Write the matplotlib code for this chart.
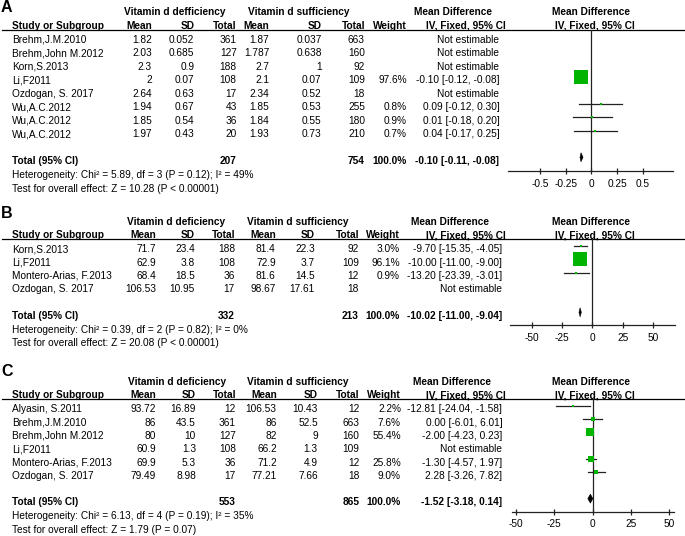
import numpy as np
import matplotlib
matplotlib.use("Agg")
import matplotlib.pyplot as plt

plt.rcParams['font.family'] = ['Liberation Sans', 'DejaVu Sans']
plt.rcParams['axes.unicode_minus'] = False

# ---- panel A ----
a_study = ["Brehm,J.M.2010", "Brehm,John M.2012", "Korn,S.2013", "Li,F2011",
           "Ozdogan, S. 2017", "Wu,A.C.2012", "Wu,A.C.2012", "Wu,A.C.2012"]
a_def_mean = [1.82, 2.03, 2.3, 2, 2.64, 1.94, 1.85, 1.97]
a_def_sd = [0.052, 0.685, 0.9, 0.07, 0.63, 0.67, 0.54, 0.43]
a_def_n = [361, 127, 188, 108, 17, 43, 36, 20]
a_suf_mean = [1.87, 1.787, 2.7, 2.1, 2.34, 1.85, 1.84, 1.93]
a_suf_sd = [0.037, 0.638, 1, 0.07, 0.52, 0.53, 0.55, 0.73]
a_suf_n = [663, 160, 92, 109, 18, 255, 180, 210]
a_weight = [None, None, None, 97.6, None, 0.8, 0.9, 0.7]
a_md = [None, None, None, -0.10, None, 0.09, 0.01, 0.04]
a_lo = [None, None, None, -0.12, None, -0.12, -0.18, -0.17]
a_hi = [None, None, None, -0.08, None, 0.30, 0.20, 0.25]
a_tot_n = [207, 754]
a_tot_ci = [-0.10, -0.11, -0.08]
a_het = [5.89, 3, 0.12, 49]
a_z = [10.28, "< 0.00001"]
a_ticks = [-0.5, -0.25, 0, 0.25, 0.5]
a_ticklabels = ["-0.5", "-0.25", "0", "0.25", "0.5"]

# ---- panel B ----
b_study = ["Korn,S.2013", "Li,F2011", "Montero-Arias, F.2013", "Ozdogan, S. 2017"]
b_def_mean = [71.7, 62.9, 68.4, 106.53]
b_def_sd = [23.4, 3.8, 18.5, 10.95]
b_def_n = [188, 108, 36, 17]
b_suf_mean = [81.4, 72.9, 81.6, 98.67]
b_suf_sd = [22.3, 3.7, 14.5, 17.61]
b_suf_n = [92, 109, 12, 18]
b_weight = [3.0, 96.1, 0.9, None]
b_md = [-9.70, -10.00, -13.20, None]
b_lo = [-15.35, -11.00, -23.39, None]
b_hi = [-4.05, -9.00, -3.01, None]
b_tot_n = [332, 213]
b_tot_ci = [-10.02, -11.00, -9.04]
b_het = [0.39, 2, 0.82, 0]
b_z = [20.08, "< 0.00001"]
b_ticks = [-50, -25, 0, 25, 50]
b_ticklabels = ["-50", "-25", "0", "25", "50"]

# ---- panel C ----
c_study = ["Alyasin, S.2011", "Brehm,J.M.2010", "Brehm,John M.2012", "Li,F2011",
           "Montero-Arias, F.2013", "Ozdogan, S. 2017"]
c_def_mean = [93.72, 86, 80, 60.9, 69.9, 79.49]
c_def_sd = [16.89, 43.5, 10, 1.3, 5.3, 8.98]
c_def_n = [12, 361, 127, 108, 36, 17]
c_suf_mean = [106.53, 86, 82, 66.2, 71.2, 77.21]
c_suf_sd = [10.43, 52.5, 9, 1.3, 4.9, 7.66]
c_suf_n = [12, 663, 160, 109, 12, 18]
c_weight = [2.2, 7.6, 55.4, None, 25.8, 9.0]
c_md = [-12.81, 0.00, -2.00, None, -1.30, 2.28]
c_lo = [-24.04, -6.01, -4.23, None, -4.57, -3.26]
c_hi = [-1.58, 6.01, 0.23, None, 1.97, 7.82]
c_tot_n = [553, 865]
c_tot_ci = [-1.52, -3.18, 0.14]
c_het = [6.13, 4, 0.19, 35]
c_z = [1.79, "= 0.07"]
c_ticks = [-50, -25, 0, 25, 50]
c_ticklabels = ["-50", "-25", "0", "25", "50"]

panels = [
    dict(letter="A", def_label="Vitamin d defficiency", study=a_study,
         def_mean=a_def_mean, def_sd=a_def_sd, def_n=a_def_n,
         suf_mean=a_suf_mean, suf_sd=a_suf_sd, suf_n=a_suf_n,
         weight=a_weight, md=a_md, lo=a_lo, hi=a_hi, tot_n=a_tot_n,
         tot_ci=a_tot_ci, het=a_het, z=a_z, ticks=a_ticks, ticklabels=a_ticklabels),
    dict(letter="B", def_label="Vitamin d deficiency", study=b_study,
         def_mean=b_def_mean, def_sd=b_def_sd, def_n=b_def_n,
         suf_mean=b_suf_mean, suf_sd=b_suf_sd, suf_n=b_suf_n,
         weight=b_weight, md=b_md, lo=b_lo, hi=b_hi, tot_n=b_tot_n,
         tot_ci=b_tot_ci, het=b_het, z=b_z, ticks=b_ticks, ticklabels=b_ticklabels),
    dict(letter="C", def_label="Vitamin d deficiency", study=c_study,
         def_mean=c_def_mean, def_sd=c_def_sd, def_n=c_def_n,
         suf_mean=c_suf_mean, suf_sd=c_suf_sd, suf_n=c_suf_n,
         weight=c_weight, md=c_md, lo=c_lo, hi=c_hi, tot_n=c_tot_n,
         tot_ci=c_tot_ci, het=c_het, z=c_z, ticks=c_ticks, ticklabels=c_ticklabels),
]

# layout in pixels
layouts = [
    dict(y0=40, step=13.45, letter_y=7, axis_y=171,
         cols=[151.7, 194.3, 236.7, 269.3, 321.7, 365, 406.7, 499.3],
         def_c=174.7, suf_c=299, md_c=453, fx=(508, 673), xlim=(-0.811, 0.796), box=1.5),
    dict(y0=249.3, step=13.35, letter_y=213, axis_y=325,
         cols=[156, 195, 235, 275.7, 315, 359, 400, 502.3],
         def_c=176.3, suf_c=297.5, md_c=450.5, fx=(510, 675), xlim=(-67.7, 68.0), box=1.45),
    dict(y0=409.3, step=13.3, letter_y=372, axis_y=511.7,
         cols=[156, 196, 236, 276.7, 317.7, 359.3, 401, 502.3],
         def_c=177.5, suf_c=297.7, md_c=452, fx=(511.7, 674), xlim=(-52.8, 53.0), box=1.12),
]

W, H = 685, 536
fs = 7.25
green = "#00b400"
ink = "#222222"

fig = plt.figure(figsize=(W / 100, H / 100), dpi=100)
bg = fig.add_axes([0, 0, 1, 1])
bg.set_xlim(0, W)
bg.set_ylim(H, 0)
bg.axis("off")


def num(v):
    return f"{v:g}"


def ci_text(m, l, h):
    return f"{m:.2f} [{l:.2f}, {h:.2f}]"


for p, lay in zip(panels, layouts):
    n = len(p["study"])
    st = lay["step"]
    ry = lambda i: lay["y0"] + i * st
    cols = lay["cols"]
    bold = dict(fontsize=fs, fontweight="bold", va="center")
    norm = dict(fontsize=fs, va="center")

    bg.text(1, lay["letter_y"], p["letter"], fontsize=11.5, fontweight="bold", va="center")

    # header rows
    y1 = ry(-2.05)
    bg.text(lay["def_c"], y1, p["def_label"], ha="center", **bold)
    bg.text(lay["suf_c"], y1, "Vitamin d sufficiency", ha="center", **bold)
    bg.text(lay["md_c"], y1, "Mean Difference", ha="center", **bold)
    bg.text(591.5, y1, "Mean Difference", ha="center", **bold)
    y2 = ry(-1.05)
    bg.text(12, y2, "Study or Subgroup", ha="left", **bold)
    for x, lab in zip(cols[:7], ["Mean", "SD", "Total", "Mean", "SD", "Total", "Weight"]):
        bg.text(x, y2, lab, ha="right", **bold)
    bg.text(505.7, y2, "IV, Fixed, 95% CI", ha="right", **bold)
    bg.text(594.5, y2, "IV, Fixed, 95% CI", ha="center", **bold)
    uy = ry(-0.77)
    bg.plot([2, W], [uy, uy], color="black", lw=0.9)

    # study rows
    for i in range(n):
        y = ry(i)
        bg.text(12, y, p["study"][i], ha="left", **norm)
        vals = [num(p["def_mean"][i]), num(p["def_sd"][i]), str(p["def_n"][i]),
                num(p["suf_mean"][i]), num(p["suf_sd"][i]), str(p["suf_n"][i])]
        for x, v in zip(cols[:6], vals):
            bg.text(x, y, v, ha="right", **norm)
        if p["md"][i] is None:
            bg.text(cols[7], y, "Not estimable", ha="right", **norm)
        else:
            bg.text(cols[6], y, f"{p['weight'][i]:.1f}%", ha="right", **norm)
            bg.text(cols[7], y, ci_text(p["md"][i], p["lo"][i], p["hi"][i]), ha="right", **norm)

    # total + footnotes
    yt = ry(n + 0.98)
    bg.text(12, yt, "Total (95% CI)", ha="left", **bold)
    bg.text(cols[2], yt, str(p["tot_n"][0]), ha="right", **bold)
    bg.text(cols[5], yt, str(p["tot_n"][1]), ha="right", **bold)
    bg.text(cols[6], yt, "100.0%", ha="right", **bold)
    bg.text(cols[7], yt, ci_text(*p["tot_ci"]), ha="right", **bold)
    chi, df, pv, i2 = p["het"]
    bg.text(12, ry(n + 2.02),
            f"Heterogeneity: Chi\u00b2 = {chi:.2f}, df = {df} (P = {pv:.2f}); I\u00b2 = {i2}%",
            ha="left", **norm)
    bg.text(12, ry(n + 3.05),
            f"Test for overall effect: Z = {p['z'][0]:.2f} (P {p['z'][1]})",
            ha="left", **norm)

    # forest plot axes (y in the same pixel units as the table)
    x0, x1 = lay["fx"]
    fa = fig.add_axes([x0 / W, 1 - lay["axis_y"] / H, (x1 - x0) / W, (lay["axis_y"] - uy) / H])
    fa.set_xlim(*lay["xlim"])
    fa.set_ylim(lay["axis_y"], uy)
    fa.patch.set_alpha(0)
    for s in ["top", "left", "right"]:
        fa.spines[s].set_visible(False)
    fa.spines["bottom"].set_color(ink)
    fa.spines["bottom"].set_linewidth(0.9)
    fa.axvline(0, color=ink, lw=0.9)
    fa.set_yticks([])
    fa.set_xticks(p["ticks"])
    fa.set_xticklabels(p["ticklabels"], fontsize=fs)
    fa.tick_params(axis="x", direction="inout", length=5, width=0.9, color=ink, pad=3)

    for i in range(n):
        if p["md"][i] is None:
            continue
        y = ry(i) - 3.5
        fa.plot([p["lo"][i], p["hi"][i]], [y, y], color=ink, lw=0.9, zorder=2, clip_on=False)
        side = max(lay["box"] * np.sqrt(p["weight"][i]), 2.5) * 0.72
        fa.scatter([p["md"][i]], [y], marker="s", s=side ** 2, color=green,
                   linewidths=0, zorder=3, clip_on=False)

    m, lo, hi = p["tot_ci"]
    yd = yt - 3.5
    fa.fill([lo, m, hi, m], [yd, yd - 4.5, yd, yd + 4.5], color="black", lw=0.4, zorder=3)

fig.savefig("out.png", dpi=100)
